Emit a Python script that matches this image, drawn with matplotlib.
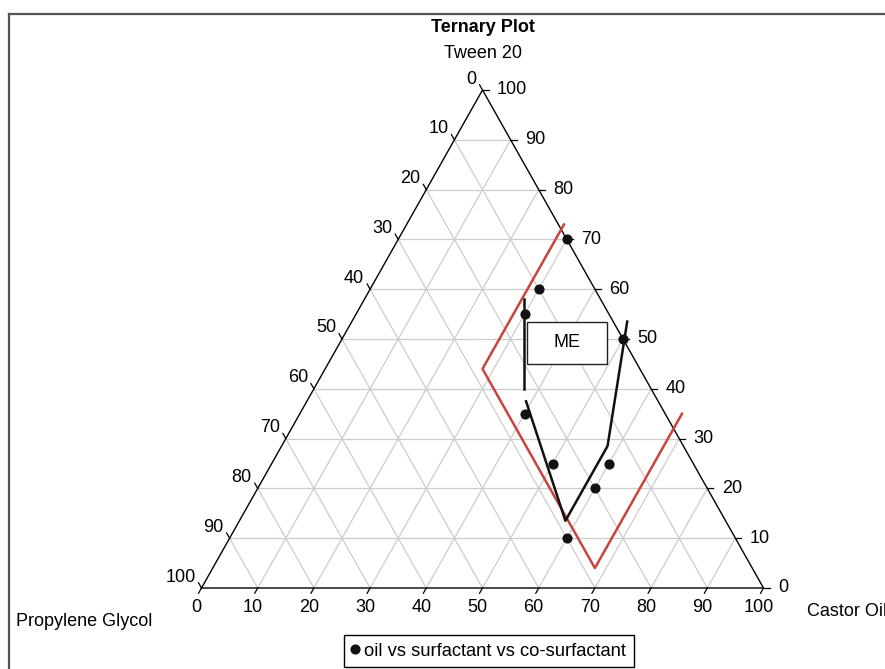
import matplotlib
matplotlib.use("Agg")
import matplotlib.pyplot as plt
from matplotlib.patches import Rectangle
from matplotlib.lines import Line2D

plt.rcParams['font.family'] = ['Liberation Sans', 'DejaVu Sans']
plt.rcParams['font.size'] = 13

# formulation points: oil (Castor Oil), surfactant (Tween 20), co-surfactant (Propylene Glycol)
oil = [30, 30, 30, 50, 40, 50, 60, 60, 60]
surfactant = [70, 60, 55, 50, 35, 25, 25, 20, 10]
cosurfactant = [0, 10, 15, 0, 25, 25, 15, 20, 30]

# red boundary line (oil, surfactant)
red_oil = [28, 28, 68, 68]
red_surf = [73, 44, 4, 35]

# black boundary lines (oil, surfactant)
blk1_oil = [28.4, 37.4]
blk1_surf = [58, 40]
blk2_oil = [39, 58, 58, 49]
blk2_surf = [37.5, 13.5, 28.5, 53.5]

ticks = list(range(0, 101, 10))


def to_xy(c, t):
    return [ci + ti / 2 for ci, ti in zip(c, t)], list(t)


fig = plt.figure(figsize=(8.85, 6.69), dpi=100)
W, H = 885, 669
x0, x1, yb, yt = 201.5, 763.5, 588, 90
ax = fig.add_axes([x0 / W, 1 - yb / H, (x1 - x0) / W, (yb - yt) / H])
ax.set_xlim(0, 100)
ax.set_ylim(0, 100)
ax.axis('off')

# pixel -> data unit factors
px = 100 / (x1 - x0)
py = 100 / (yb - yt)

grid_kw = dict(color='#cccccc', lw=0.9, zorder=1)
for i in ticks[1:-1]:
    # constant Tween 20
    ax.plot([i / 2, 100 - i / 2], [i, i], **grid_kw)
    # constant Castor Oil
    ax.plot([i, i + (100 - i) / 2], [0, 100 - i], **grid_kw)
    # constant Propylene Glycol
    ax.plot([(100 - i) / 2, 100 - i], [100 - i, 0], **grid_kw)

# triangle outline
ax.plot([0, 100, 50, 0], [0, 0, 100, 0], color='black', lw=1, zorder=2, clip_on=False)

tk = 6
for i in ticks:
    # bottom axis (Castor Oil)
    ax.plot([i, i - 0.491 * tk * px], [0, -0.871 * tk * py], color='black', lw=0.9, clip_on=False)
    ax.text(i - 5 * px, -19 * py, str(i), ha='center', va='center')
    # right axis (Tween 20)
    xr = (100 - i) + i / 2
    ax.plot([xr, xr + tk * px], [i, i], color='black', lw=0.9, clip_on=False)
    ax.text(xr + 14.5 * px, i, str(i), ha='left', va='center')
    # left axis (Propylene Glycol)
    tl = 100 - i
    xl = tl / 2
    ax.plot([xl, xl - 0.491 * tk * px], [tl, tl + 0.871 * tk * py], color='black', lw=0.9, clip_on=False)
    ax.text(xl - 6 * px, tl + 11 * py, str(i), ha='right', va='center')

# boundary lines
rx, ry = to_xy(red_oil, red_surf)
ax.plot(rx, ry, color='#c8443f', lw=1.8, zorder=3, clip_on=False)
bx, by = to_xy(blk1_oil, blk1_surf)
ax.plot(bx, by, color='#111111', lw=1.8, zorder=3)
bx, by = to_xy(blk2_oil, blk2_surf)
ax.plot(bx, by, color='#111111', lw=1.8, zorder=3)

# ME region label
ax.add_patch(Rectangle((57.9, 45.0), 14.25, 8.4, facecolor='white', edgecolor='#222222', lw=1, zorder=4))
ax.text(65.0, 49.2, 'ME', ha='center', va='center', zorder=5)

# data points
sx, sy = to_xy(oil, surfactant)
ax.plot(sx, sy, 'o', color='#111111', ms=6.3, zorder=6, clip_on=False,
        label='oil vs surfactant vs co-surfactant')

# titles
fig.text(483 / W, 1 - 27 / H, 'Ternary Plot', ha='center', va='center', fontweight='bold')
fig.text(483 / W, 1 - 53 / H, 'Tween 20', ha='center', va='center')
fig.text(16 / W, 1 - 622 / H, 'Propylene Glycol', ha='left', va='center')
fig.text(807 / W, 1 - 612 / H, 'Castor Oil', ha='left', va='center')

leg = fig.legend(loc='center', bbox_to_anchor=(489 / W, 1 - 651 / H), fancybox=False,
                 edgecolor='black', framealpha=1, handlelength=0.4, handletextpad=0.3,
                 borderpad=0.42, borderaxespad=0, fontsize=13.2)
leg.get_frame().set_linewidth(1)

# outer frame
fig.add_artist(Line2D([8.5 / W, 8.5 / W], [0, 1 - 13.5 / H], color='#555555', lw=1.6))
fig.add_artist(Line2D([8.5 / W, 1], [1 - 13.5 / H, 1 - 13.5 / H], color='#555555', lw=1.6))

fig.savefig('out.png', dpi=100)
